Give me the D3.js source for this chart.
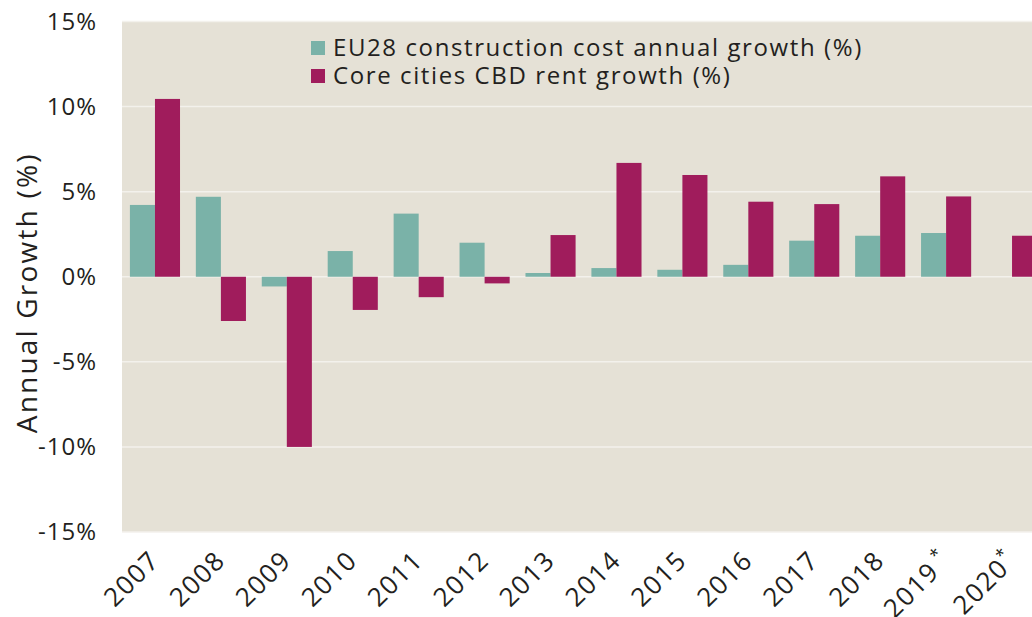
<!DOCTYPE html>
<html>
<head>
<meta charset="utf-8">
<script src="https://cdn.jsdelivr.net/npm/d3@7"></script>
<style>
  body { margin: 0; background: #fff; }
  text { font-family: "Open Sans", sans-serif; fill: #231f20; letter-spacing: 1px; }
</style>
</head>
<body>
<svg id="chart" width="1032" height="617"></svg>
<script>
// datos
var years = ["2007","2008","2009","2010","2011","2012","2013","2014","2015","2016","2017","2018","2019","2020"];
var yearMarks = ["","","","","","","","","","","","","*","*"];
var euCost = [4.22, 4.7, -0.57, 1.51, 3.71, 2.0, 0.22, 0.51, 0.41, 0.7, 2.12, 2.41, 2.57, null];
var cbdRent = [10.45, -2.6, -10.0, -1.95, -1.2, -0.39, 2.45, 6.69, 5.98, 4.41, 4.27, 5.9, 4.72, 2.41];
var seriesNames = ["EU28 construction cost annual growth (%)", "Core cities CBD rent growth (%)"];
var yTicks = [-15, -10, -5, 0, 5, 10, 15];

var colores = ["#7ab2a8", "#a01c5c"];

var svg = d3.select("#chart");
var width = +svg.attr("width");
var height = +svg.attr("height");

var mLeft = 122, mTop = 21.5, mBottom = 532, mRight = 1045;

var x = d3.scaleBand().domain(years).range([mLeft, mRight]).paddingInner(0.24).paddingOuter(0.12);
var xs = d3.scaleBand().domain([0, 1]).range([0, x.bandwidth()]);
var y = d3.scaleLinear().domain([-15, 15]).range([mBottom, mTop]);

// fondo
svg.append("rect")
  .attr("x", mLeft).attr("y", mTop)
  .attr("width", width - mLeft).attr("height", mBottom - mTop)
  .attr("fill", "#e5e1d6");

// lineas de la grilla
svg.append("g").selectAll("line")
  .data(yTicks)
  .enter().append("line")
  .attr("x1", mLeft).attr("x2", width)
  .attr("y1", function(d) { return y(d); })
  .attr("y2", function(d) { return y(d); })
  .attr("stroke", "#f3f1ec")
  .attr("stroke-width", 1.5);

// eje y
var yAxis = svg.append("g")
  .attr("transform", "translate(" + (mLeft - 25) + ",0)")
  .call(d3.axisLeft(y).tickValues(yTicks).tickSize(0).tickPadding(0).tickFormat(function(d) { return d + "%"; }));
yAxis.select(".domain").remove();
yAxis.selectAll("text")
  .style("font-family", "'Open Sans', sans-serif")
  .style("font-size", "24px")
  .attr("fill", "#231f20");

svg.append("text")
  .attr("transform", "translate(37," + ((mTop + mBottom) / 2 + 16) + ") rotate(-90)")
  .attr("text-anchor", "middle")
  .style("font-size", "28px")
  .style("letter-spacing", "2.2px")
  .text("Annual Growth (%)");

// barras
var grupos = svg.append("g").selectAll("g")
  .data(years)
  .enter().append("g")
  .attr("transform", function(d) { return "translate(" + x(d) + ",0)"; });

[euCost, cbdRent].forEach(function(serie, s) {
  grupos.filter(function(d, i) { return serie[i] != null; })
    .append("rect")
    .attr("x", xs(s))
    .attr("width", xs.bandwidth())
    .attr("y", function(d) { var v = serie[years.indexOf(d)]; return y(Math.max(0, v)); })
    .attr("height", function(d) { var v = serie[years.indexOf(d)]; return Math.abs(y(v) - y(0)); })
    .attr("fill", colores[s]);
});

// eje x
var xAxis = svg.append("g")
  .attr("transform", "translate(0," + mBottom + ")")
  .call(d3.axisBottom(x).tickSize(0).tickPadding(0).tickFormat(""));
xAxis.select(".domain").remove();
xAxis.selectAll(".tick").append("text")
  .attr("text-anchor", "end")
  .attr("transform", "translate(6,30) rotate(-45)")
  .style("font-size", "26px")
  .style("letter-spacing", "1.5px")
  .attr("fill", "#231f20")
  .each(function(d, i) {
    var t = d3.select(this);
    t.append("tspan").text(d);
    if (yearMarks[i]) {
      t.append("tspan")
        .attr("dx", i == 12 ? 5 : 0)
        .attr("dy", -11)
        .style("font-size", "17px")
        .text(yearMarks[i]);
    }
  });

// leyenda
var legend = svg.selectAll(".legend")
  .data(seriesNames)
  .enter().append("g")
  .attr("class", "legend")
  .attr("transform", function(d, i) { return "translate(311," + (41 + i * 28) + ")"; });
legend.append("rect")
  .attr("width", 14).attr("height", 14)
  .attr("fill", function(d, i) { return colores[i]; });
legend.append("text")
  .attr("x", 22).attr("y", 7)
  .attr("dy", "0.35em")
  .style("font-size", "24px")
  .style("letter-spacing", "1.6px")
  .text(function(d) { return d; });
</script>
</body>
</html>
